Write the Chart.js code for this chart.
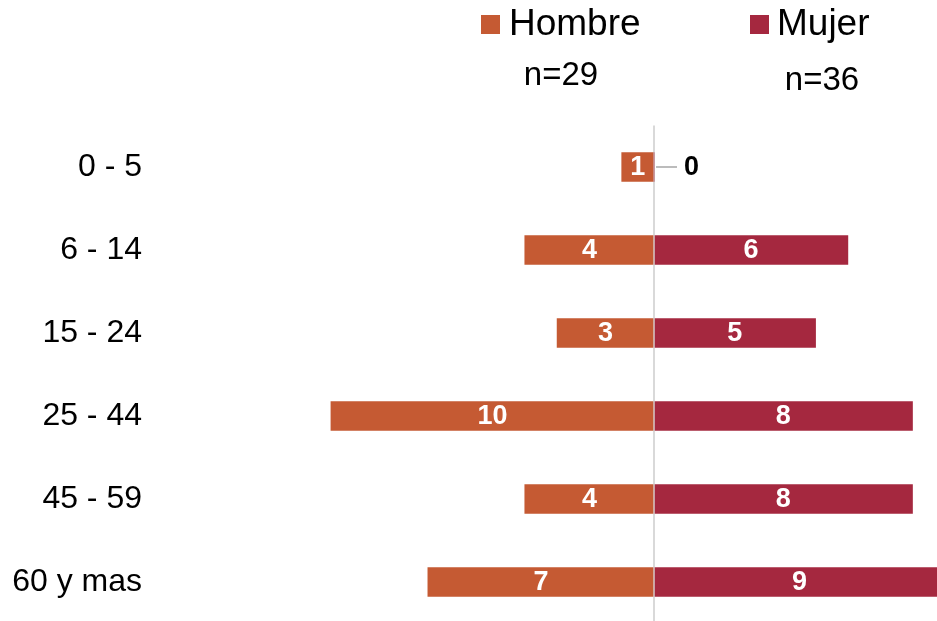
<!DOCTYPE html>
<html>

<head>
    <title>Hombre / Mujer por edad</title>
    <script src="https://cdn.jsdelivr.net/npm/chart.js"></script>
    <style>
        html, body {
            margin: 0;
            padding: 0;
            background: #fff;
            overflow: hidden;
        }

        #wrap {
            width: 960px;
            height: 650px;
        }
    </style>
</head>

<body>
    <div id="wrap"><canvas id="pyramid"></canvas></div>

    <script>
        const ageGroups = ['0 - 5', '6 - 14', '15 - 24', '25 - 44', '45 - 59', '60 y mas'];
        const hombre = [1, 4, 3, 10, 4, 7];
        const mujer = [0, 6, 5, 8, 8, 9];
        const seriesNames = ['Hombre', 'Mujer'];
        const sampleSizes = ['n=29', 'n=36'];

        const COLORS = ['#C55A33', '#A5283F'];
        const FONT = '"Liberation Sans", Arial, sans-serif';

        // leyenda y n= dibujados a mano
        const legendPlugin = {
            id: 'legendPlugin',
            afterDraw(chart) {
                const ctx = chart.ctx;
                const items = [
                    { box: 481, text: 509, n: 561, nY: 85 },
                    { box: 750, text: 777, n: 822, nY: 90 }
                ];
                ctx.save();
                items.forEach((it, i) => {
                    ctx.fillStyle = COLORS[i];
                    ctx.fillRect(it.box, 15, 19, 19);
                    ctx.fillStyle = '#000';
                    ctx.font = '37px ' + FONT;
                    ctx.textAlign = 'left';
                    ctx.textBaseline = 'alphabetic';
                    ctx.fillText(seriesNames[i], it.text, 35);
                    ctx.font = '33px ' + FONT;
                    ctx.textAlign = 'center';
                    ctx.fillText(sampleSizes[i], it.n, it.nY);
                });
                ctx.restore();
            }
        };

        // etiquetas de valores
        const valueLabels = {
            id: 'valueLabels',
            afterDatasetsDraw(chart) {
                const ctx = chart.ctx;
                const xs = chart.scales.x;
                const zero = xs.getPixelForValue(0);
                ctx.save();
                ctx.font = 'bold 27px ' + FONT;
                ctx.textBaseline = 'middle';
                chart.data.datasets.forEach((ds, di) => {
                    const meta = chart.getDatasetMeta(di);
                    meta.data.forEach((bar, i) => {
                        const raw = ds.data[i];
                        const v = Math.abs(raw);
                        if (v === 0) {
                            ctx.strokeStyle = '#A6A6A6';
                            ctx.lineWidth = 1.5;
                            ctx.beginPath();
                            ctx.moveTo(zero + 2, bar.y);
                            ctx.lineTo(zero + 23, bar.y);
                            ctx.stroke();
                            ctx.fillStyle = '#000';
                            ctx.textAlign = 'left';
                            ctx.fillText('0', zero + 30, bar.y + 1);
                        } else {
                            ctx.fillStyle = '#fff';
                            ctx.textAlign = 'center';
                            const end = xs.getPixelForValue(raw);
                            ctx.fillText(String(v), (zero + end) / 2, bar.y + 1);
                        }
                    });
                });
                ctx.restore();
            }
        };

        const ctx = document.getElementById('pyramid').getContext('2d');
        new Chart(ctx, {
            type: 'bar',
            data: {
                labels: ageGroups,
                datasets: [{
                    label: seriesNames[0],
                    data: hombre.map(v => -v),
                    backgroundColor: COLORS[0],
                    barThickness: 29,
                    grouped: false
                }, {
                    label: seriesNames[1],
                    data: mujer,
                    backgroundColor: COLORS[1],
                    barThickness: 29,
                    grouped: false
                }]
            },
            options: {
                indexAxis: 'y',
                responsive: true,
                maintainAspectRatio: false,
                animation: false,
                events: [],
                layout: {
                    padding: { top: 125.5, bottom: 26.5, left: 0, right: 0 }
                },
                plugins: {
                    legend: { display: false },
                    tooltip: { enabled: false }
                },
                scales: {
                    x: {
                        min: -15.29,
                        max: 9.47,
                        ticks: { display: false },
                        border: { display: false },
                        grid: {
                            drawTicks: false,
                            color: c => c.tick && c.tick.value === 0 ? '#D9D9D9' : 'rgba(0,0,0,0)',
                            lineWidth: 2
                        },
                        afterFit(scale) {
                            scale.height = 0;
                            scale.paddingLeft = 0;
                            scale.paddingRight = 0;
                        }
                    },
                    y: {
                        border: { display: false },
                        grid: { display: false, drawTicks: false },
                        ticks: {
                            color: '#000',
                            padding: 18,
                            font: { family: FONT, size: 32 }
                        },
                        afterFit(scale) {
                            scale.width = 160;
                            scale.paddingTop = 0;
                            scale.paddingBottom = 0;
                        }
                    }
                }
            },
            plugins: [legendPlugin, valueLabels]
        });
    </script>
</body>

</html>
